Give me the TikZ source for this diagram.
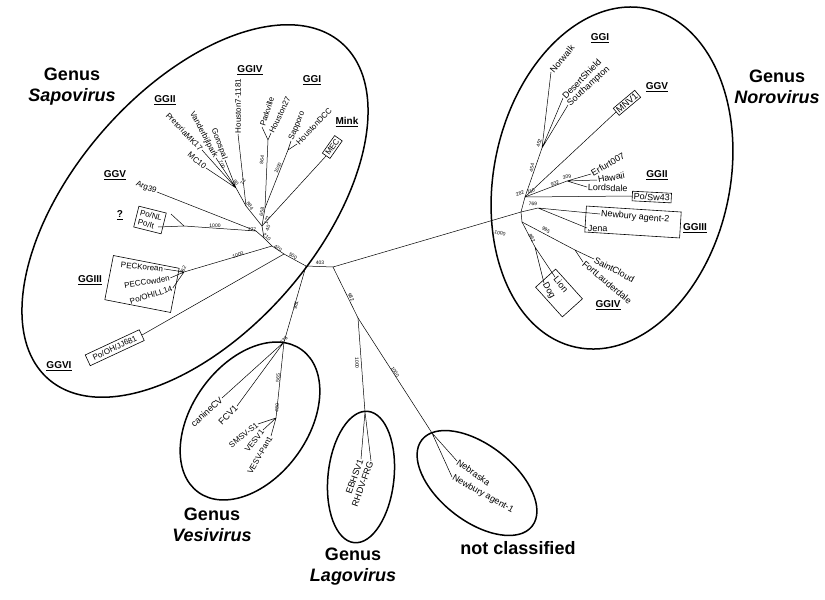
\documentclass[tikz,border=0pt]{standalone}
\usepackage{fontspec}
\setmainfont{Liberation Sans}
\begin{document}
\begin{tikzpicture}[x=1pt,y=-1pt,
  br/.style={line width=0.5pt},
  hull/.style={line width=1.5pt},
  leaf/.style={font=\fontsize{9}{10.5}\selectfont, inner sep=0.8pt},
  sleaf/.style={font=\fontsize{8}{9.5}\selectfont, inner sep=0.8pt},
  bs/.style={font=\fontsize{5}{5}\selectfont, inner sep=0.3pt},
  grp/.style={font=\fontsize{10}{12}\selectfont\bfseries, inner sep=1pt},
  genus/.style={font=\fontsize{18}{21}\selectfont\bfseries, align=center, inner sep=0pt},
  tbox/.style={draw, line width=0.6pt}]
\useasboundingbox (0,0) rectangle (825,600);
% ---------- group hulls ----------
\draw[hull, rotate around={48.9:(195,211)}] (195,211) ellipse [x radius=223, y radius=122];
\draw[hull, rotate around={-12:(612,178)}] (612,178) ellipse [x radius=118, y radius=173];
\draw[hull, rotate around={54:(250,421)}] (250,421) ellipse [x radius=88, y radius=58];
\draw[hull, rotate around={-6:(361,477)}] (361,477) ellipse [x radius=33, y radius=66];
\draw[hull, rotate around={-38:(477,483)}] (477,483) ellipse [x radius=70, y radius=38];
% ---------- genus labels ----------
\node[genus] (gsap) at (72,87) {Genus\\\textit{Sapovirus}};
\node[genus] (gnor) at (777,87) {Genus\\\textit{Norovirus}};
\node[genus] (gves) at (212,525) {Genus\\\textit{Vesivirus}};
\node[genus] (glag) at (353,567) {Genus\\\textit{Lagovirus}};
\node[genus] (gnc) at (518,548) {not classified};
% ---------- internal coordinates ----------
\coordinate (R0) at (306,266);
\coordinate (R1) at (333,267);
\coordinate (S1) at (284,254);
\coordinate (S2) at (272,246);
\coordinate (S3) at (264,238);
\coordinate (S4) at (256,231);
\coordinate (S5) at (262,226);
\coordinate (S6) at (265,208);
\coordinate (S7) at (246,206);
\coordinate (G2) at (236,188);
\coordinate (K1) at (268,140);
\coordinate (K2) at (288,150);
\coordinate (P0) at (184,272);
\coordinate (Q0) at (184,226);
\coordinate (V1) at (284,342);
\coordinate (V2) at (276,418);
\coordinate (L1) at (358,318);
\coordinate (L2) at (365,412);
\coordinate (U1) at (432,433);
\coordinate (N0) at (521,212);
\coordinate (Na) at (525,197);
\coordinate (Nb) at (522,222);
\coordinate (NW) at (542,148);
\coordinate (NG2) at (567,181);
\coordinate (NG3) at (538,208);
\coordinate (NG4) at (575,250);
\coordinate (NL) at (535,247);
% ---------- Sapovirus leaves ----------
\node[sleaf, anchor=east, rotate=-62] (vdb) at (216,158) {Vanderbijlpark};
\node[sleaf, anchor=east, rotate=-46] (pre) at (202,150) {PretoriaMK17};
\node[sleaf, anchor=east, rotate=-40] (mc10) at (206,168) {MC10};
\node[sleaf, anchor=east, rotate=-70] (gor) at (225,160) {Gorospal};
\node[sleaf, anchor=west, rotate=90] (h7) at (238,134) {Houston7-1181};
\node[sleaf, anchor=west, rotate=72] (park) at (262,127) {Parkville};
\node[sleaf, anchor=west, rotate=64] (h27) at (271,133) {Houston27};
\node[sleaf, anchor=west, rotate=68] (sap) at (291,141) {Sapporo};
\node[sleaf, anchor=west, rotate=46] (hdcc) at (297,144) {HoustonDCC};
\node[sleaf, tbox, anchor=west, rotate=55, inner sep=1.8pt] (mec) at (326,156) {MEC};
\node[sleaf, anchor=east, rotate=-22] (arg) at (157,192) {Arg39};
\node[sleaf, tbox, rotate=-14, align=left, inner sep=3pt] (qbox) at (150,220) {Po/NL\\Po/It};
\coordinate (PoNL) at (171,214);
\coordinate (PoIt) at (158,227);
\node[tbox, rotate=-11, minimum width=67pt, minimum height=45pt] (pecbox) at (142,284) {};
\node[sleaf, rotate=-5] (peck) at (142,267) {PECKorean};
\node[sleaf, rotate=10] (pecc) at (147,282) {PECCowden};
\node[sleaf, rotate=18] (pecl) at (151,295) {Po/OH/LL14};
\node[sleaf, tbox, anchor=east, rotate=25, inner xsep=6pt, inner ysep=3pt] (jj) at (142,335) {Po/OH/JJ681};
% ---------- Sapovirus branches ----------
\draw[br] (R0) -- (R1);
\draw[br] (R0) -- (S1) -- (S2) -- (S3) -- (S4);
\draw[br] (S1) -- (jj.east);
\draw[br] (S2) -- (P0);
\draw[br] (P0) -- (peck.east) (P0) -- (pecc.east) (P0) -- (pecl.east);
\draw[br] (S4) -- (Q0) -- (PoNL) (Q0) -- (PoIt);
\draw[br] (S4) -- (arg.east);
\draw[br] (S3) -- (S5) -- (S6);
\draw[br] (S5) -- (mec.west);
\draw[br] (S6) -- (K1) (K1) -- (park.west) (K1) -- (h27.west);
\draw[br] (S6) -- (K2) (K2) -- (sap.west) (K2) -- (hdcc.west);
\draw[br] (S5) -- (S7) -- (h7.west);
\draw[br] (S7) -- (G2);
\draw[br] (G2) -- (vdb.east) (G2) -- (pre.east) (G2) -- (mc10.east) (G2) -- (gor.east);
% ---------- Vesivirus ----------
\node[leaf, anchor=east, rotate=42] (canine) at (222,398) {canineCV};
\node[leaf, anchor=east, rotate=45] (fcv) at (237,406) {FCV1};
\node[sleaf, anchor=east, rotate=38] (smsv) at (258,424) {SMSV-S1};
\node[sleaf, anchor=east, rotate=52] (vesv) at (263,430) {VESV1};
\node[sleaf, anchor=east, rotate=60] (vpan) at (271,436) {VESV-Pan1};
\draw[br] (R0) -- (V1) -- (canine.east) (V1) -- (fcv.east);
\draw[br] (V1) -- (V2) -- (smsv.east) (V2) -- (vesv.east) (V2) -- (vpan.east);
% ---------- Lagovirus / not classified ----------
\node[leaf, anchor=east, rotate=70] (ebhsv) at (361,459) {EBHSV1};
\node[leaf, anchor=east, rotate=70] (rhdv) at (371,461) {RHDV-FRG};
\node[leaf, anchor=west, rotate=-35] (neb) at (457,461) {Nebraska};
\node[leaf, anchor=west, rotate=-29] (new1) at (452,477) {Newbury agent-1};
\draw[br] (R1) -- (L1) -- (L2) -- (ebhsv.east) (L2) -- (rhdv.east);
\draw[br] (L1) -- (U1) -- (neb.west) (U1) -- (new1.west);
% ---------- Norovirus ----------
\node[leaf, anchor=west, rotate=50] (norw) at (551,72) {Norwalk};
\node[leaf, anchor=west, rotate=46] (dsh) at (563,98) {DesertShield};
\node[leaf, anchor=west, rotate=42] (sth) at (568,105) {Southampton};
\node[leaf, tbox, anchor=west, rotate=40, inner sep=1.5pt] (mnv) at (616,112) {MNV1};
\node[leaf, anchor=west, rotate=30] (erf) at (591,174) {Erfurt007};
\node[leaf, anchor=west, rotate=10] (haw) at (597,180) {Hawaii};
\node[leaf, anchor=west, rotate=-2] (lor) at (587,187) {Lordsdale};
\node[leaf, tbox, anchor=west, rotate=-3, inner sep=1.5pt] (sw43) at (632,196) {Po/Sw43};
\node[tbox, rotate=-3.6, minimum width=95pt, minimum height=26pt] (g3box) at (633,222) {};
\node[leaf, anchor=west, rotate=-5] (new2) at (600,214) {Newbury agent-2};
\node[leaf, anchor=west, rotate=-2] (jena) at (587,228) {Jena};
\node[leaf, anchor=west, rotate=-28] (stc) at (594,259) {SaintCloud};
\node[leaf, anchor=west, rotate=-40] (ftl) at (583,262) {FortLauderdale};
\node[tbox, rotate=-48, minimum width=40pt, minimum height=27pt] (ldbox) at (559,293) {};
\node[leaf, anchor=west, rotate=-50] (lion) at (555,277) {Lion};
\node[leaf, anchor=west, rotate=-60] (dog) at (544,283) {Dog};
\draw[br] (R1) -- (N0) -- (Na) (N0) -- (Nb);
\draw[br] (Na) -- (NW) -- (norw.west) (NW) -- (dsh.west) (NW) -- (sth.west);
\draw[br] (Na) -- (mnv.west);
\draw[br] (Na) -- (NG2) -- (erf.west) (NG2) -- (haw.west) (NG2) -- (lor.west);
\draw[br] (Na) -- (sw43.west);
\draw[br] (N0) -- (NG3) -- (new2.west) (NG3) -- (jena.west);
\draw[br] (Nb) -- (NG4) -- (stc.west) (NG4) -- (ftl.west);
\draw[br] (Nb) -- (NL) -- (lion.west) (NL) -- (dog.west);
% ---------- genogroup labels ----------
\node[grp] (lGGII) at (165,100) {\underline{GGII}};
\node[grp] (lGGIV) at (250,70) {\underline{GGIV}};
\node[grp] (lGGI) at (312,80) {\underline{GGI}};
\node[grp] (lMink) at (347,122) {\underline{Mink}};
\node[grp] (lGGV) at (115,175) {\underline{GGV}};
\node[grp] (lq) at (120,215) {\underline{?}};
\node[grp] (lGGIII) at (90,280) {\underline{GGIII}};
\node[grp] (lGGVI) at (59,366) {\underline{GGVI}};
\node[grp] (nGGI) at (600,38) {\underline{GGI}};
\node[grp] (nGGV) at (657,87) {\underline{GGV}};
\node[grp] (nGGII) at (657,175) {\underline{GGII}};
\node[grp] (nGGIII) at (695,228) {\underline{GGIII}};
\node[grp] (nGGIV) at (608,305) {\underline{GGIV}};
% ---------- bootstrap values ----------
\node[bs] (b1) at (320,263) {403};
\node[bs, rotate=-32] (b2) at (293,256) {500};
\node[bs, rotate=-35] (b3) at (278,248) {420};
\node[bs, rotate=17] (b4) at (238,255) {1000};
\node[bs, rotate=60] (b5) at (183,270) {362};
\node[bs, rotate=-40] (b6) at (267,237) {210};
\node[bs, rotate=70] (b7) at (268,228) {40};
\node[bs] (b8) at (252,230) {277};
\node[bs] (b9) at (215,226) {1000};
\node[bs, rotate=80] (b10) at (262,212) {658};
\node[bs, rotate=75] (b11) at (267,220) {172};
\node[bs, rotate=83] (b12) at (262,160) {864};
\node[bs, rotate=65] (b13) at (278,168) {1000};
\node[bs, rotate=-55] (b14) at (250,206) {884};
\node[bs, rotate=-55] (b15) at (236,183) {90};
\node[bs, rotate=60] (b16) at (243,182) {72};
\node[bs, rotate=-65] (b17) at (222,165) {700};
\node[bs, rotate=78] (b18) at (296,305) {981};
\node[bs, rotate=45] (b19) at (284,340) {576};
\node[bs, rotate=85] (b20) at (278,378) {565};
\node[bs, rotate=85] (b21) at (277,408) {480};
\node[bs, rotate=-63] (b22) at (351,297) {982};
\node[bs, rotate=-88] (b23) at (357,363) {1000};
\node[bs, rotate=-57] (b24) at (395,372) {1000};
\node[bs, rotate=-14] (b25) at (500,233) {1000};
\node[bs, rotate=20] (b26) at (520,193) {282};
\node[bs, rotate=20] (b27) at (531,191) {110};
\node[bs, rotate=20] (b28) at (555,183) {932};
\node[bs, rotate=10] (b29) at (567,177) {309};
\node[bs, rotate=80] (b30) at (532,168) {454};
\node[bs, rotate=75] (b31) at (539,143) {452};
\node[bs, rotate=-5] (b32) at (533,204) {769};
\node[bs, rotate=-28] (b33) at (546,230) {995};
\node[bs, rotate=-60] (b34) at (532,238) {892};
\end{tikzpicture}
\end{document}
